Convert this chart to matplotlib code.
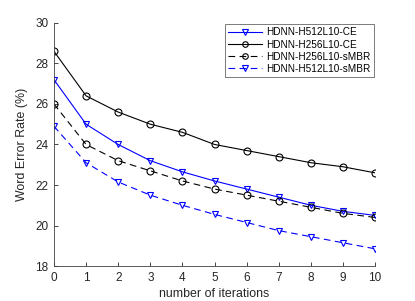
import matplotlib
matplotlib.use("Agg")
from matplotlib import pyplot as plt

iterations = list(range(11))
h512_ce = [27.2, 25.0, 24.0, 23.2, 22.65, 22.2, 21.8, 21.4, 21.0, 20.7, 20.5]
h256_ce = [28.6, 26.4, 25.6, 25.0, 24.6, 24.0, 23.7, 23.4, 23.1, 22.9, 22.6]
h256_smbr = [26.0, 24.0, 23.2, 22.7, 22.2, 21.8, 21.5, 21.2, 20.9, 20.6, 20.4]
h512_smbr = [24.9, 23.1, 22.15, 21.5, 21.0, 20.55, 20.15, 19.75, 19.45, 19.15, 18.85]
labels = ["HDNN-H512L10-CE", "HDNN-H256L10-CE", "HDNN-H256L10-sMBR", "HDNN-H512L10-sMBR"]

plt.rcParams['font.family'] = ['Liberation Sans', 'DejaVu Sans']

fig = plt.figure(figsize=(4.15, 3.01), dpi=100)
ax = fig.add_axes([0.13, 0.116, 0.774, 0.808])

style = dict(markersize=5, markerfacecolor='none', linewidth=0.8, markeredgewidth=0.8)
ax.plot(iterations, h512_ce, color='blue', linestyle='-', marker='v', label=labels[0], **style)
ax.plot(iterations, h256_ce, color='black', linestyle='-', marker='o', label=labels[1], **style)
ax.plot(iterations, h256_smbr, color='black', linestyle=(0, (6, 4)), marker='o', label=labels[2], **style)
ax.plot(iterations, h512_smbr, color='blue', linestyle=(0, (6, 4)), marker='v', label=labels[3], **style)

ax.set_xlim(0, 10)
ax.set_ylim(18, 30)
ax.set_xticks(range(11))
ax.set_yticks(range(18, 31, 2))
ax.tick_params(direction='in', labelsize=8.5, colors='#262626', length=3, width=0.6,
               top=False, right=False, pad=4)
for side in ['top', 'right']:
    ax.spines[side].set_visible(False)
for side in ['left', 'bottom']:
    ax.spines[side].set_color('#404040')
    ax.spines[side].set_linewidth(0.6)

ax.set_xlabel("number of iterations", fontsize=8.9, color='#262626', labelpad=3)
ax.set_ylabel("Word Error Rate (%)", fontsize=8.9, color='#262626', labelpad=5)

leg = ax.legend(loc='upper right', bbox_to_anchor=(1.0, 1.0), fontsize=7.2, frameon=True,
                fancybox=False, borderpad=0.35, labelspacing=0.22, handlelength=3.4,
                handletextpad=0.4, borderaxespad=0.1, markerscale=0.8)
leg.get_frame().set_edgecolor('#404040')
leg.get_frame().set_linewidth(0.6)

fig.savefig("out.png", dpi=100)
